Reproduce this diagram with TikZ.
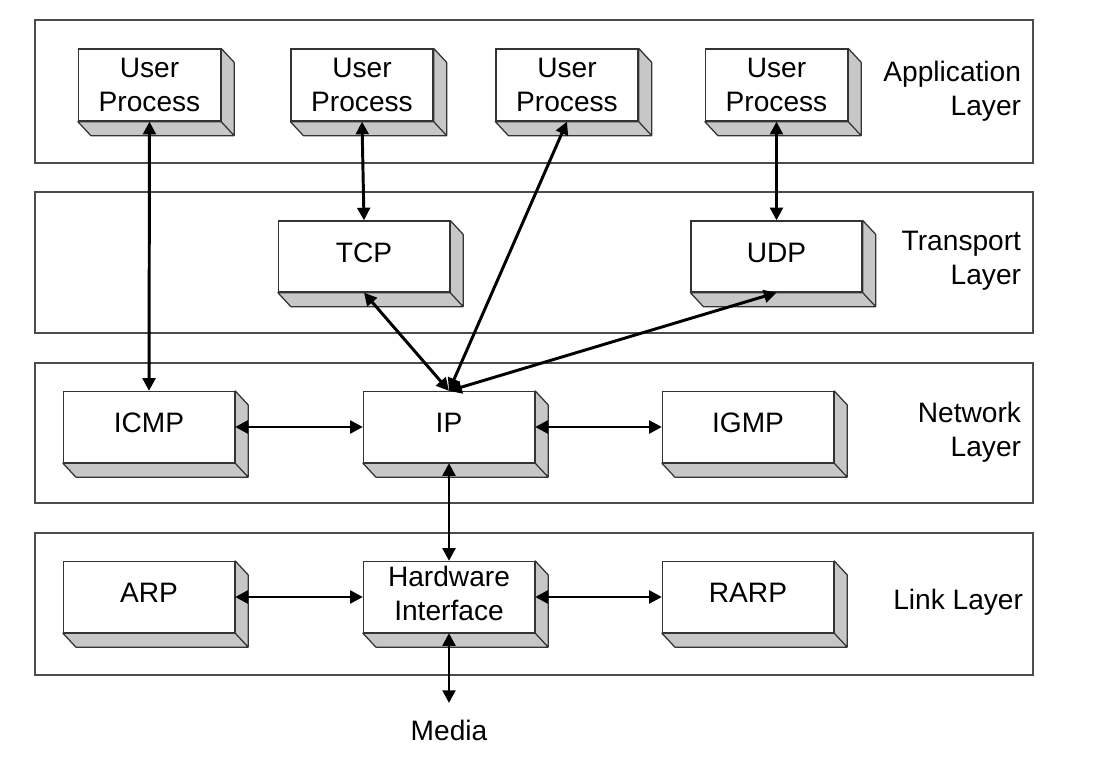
\documentclass[tikz,border=0pt]{standalone}
\usepackage{fontspec}
\setmainfont{Liberation Sans}
\usetikzlibrary{calc,arrows.meta}

\tikzset{
	layer/.style={draw=black!70, line width=1pt},
	procbox/.style={draw=black!80, fill=white, line width=0.9pt, align=center, inner sep=0pt, text depth=0.2cm, minimum width=4.275cm, minimum height=1.775cm},
	userbox/.style={procbox, text depth=, minimum width=3.55cm, minimum height=1.8cm},
	side/.style={draw=black!80, fill=black!22, line width=0.9pt, line join=round},
	link/.style={line width=2.1pt, {Triangle[length=9pt,width=9pt]}-{Triangle[length=9pt,width=9pt]}}
}

\begin{document}
\begin{tikzpicture}[x=0.025cm, y=-0.025cm, font=\fontsize{20}{24}\selectfont]
		%%%%% START %%%%%
		\useasboundingbox (0, 0) rectangle (1114, 774);
		
		% layers
		\draw[layer] (35, 20) rectangle (1033, 163);
		\draw[layer] (35, 192) rectangle (1033, 333);
		\draw[layer] (35, 363) rectangle (1033, 503);
		\draw[layer] (35, 533) rectangle (1033, 675);
		
		\node[anchor=east, align=right] (applabel) at (1026, 91) {Application\\Layer};
		\node[anchor=east, align=right] (translabel) at (1026, 261) {Transport\\Layer};
		\node[anchor=east, align=right] (netlabel) at (1026, 432) {Network\\Layer};
		\node[anchor=east] (linklabel) at (1028, 602) {Link Layer};
		
		% boxes
		\node[userbox] (up1) at (149.5, 85) {User\\Process};
		\node[userbox] (up2) at (362, 85) {User\\Process};
		\node[userbox] (up3) at (567, 85) {User\\Process};
		\node[userbox] (up4) at (776.5, 85) {User\\Process};
		
		\node[procbox] (tcp) at (364, 256.5) {TCP};
		\node[procbox] (udp) at (776.5, 256.5) {UDP};
		
		\node[procbox] (icmp) at (149, 427) {ICMP};
		\node[procbox] (ip) at (449, 427) {IP};
		\node[procbox] (igmp) at (748, 427) {IGMP};
		
		\node[procbox] (arp) at (149, 597) {ARP};
		\node[procbox] (hw) at (449, 597) {Hardware\\Interface};
		\node[procbox] (rarp) at (748, 597) {RARP};
		
		\node (media) at (449, 730) {Media};
		\coordinate (mediatop) at (449, 703);
		
		% 3d sides
		\foreach \n in {up1,up2,up3,up4,tcp,udp,icmp,ip,igmp,arp,hw,rarp}
		\draw[side] (\n.north east) -- ++(13, 14) -- ($(\n.south east)+(13, 14)$) -- ($(\n.south west)+(13, 14)$) -- (\n.south west) -- (\n.south east) -- cycle (\n.south east) -- ++(13, 14);
		
		% arrows
		\draw[link] (up1.south) -- (icmp.north);
		\draw[link] (up2.south) -- (tcp.north);
		\draw[link] (up3.south) -- (ip.north);
		\draw[link] (up4.south) -- (udp.north);
		\draw[link] (tcp.south) -- (ip.north);
		\draw[link] (udp.south) -- (ip.north);
		
		\draw[link] (icmp.east) -- (ip.west);
		\draw[link] (ip.east) -- (igmp.west);
		\draw[link] (ip.south) -- (hw.north);
		
		\draw[link] (arp.east) -- (hw.west);
		\draw[link] (hw.east) -- (rarp.west);
		\draw[link] (hw.south) -- (mediatop);
		
		%%%%% END %%%%%
	\end{tikzpicture}
\end{document}
